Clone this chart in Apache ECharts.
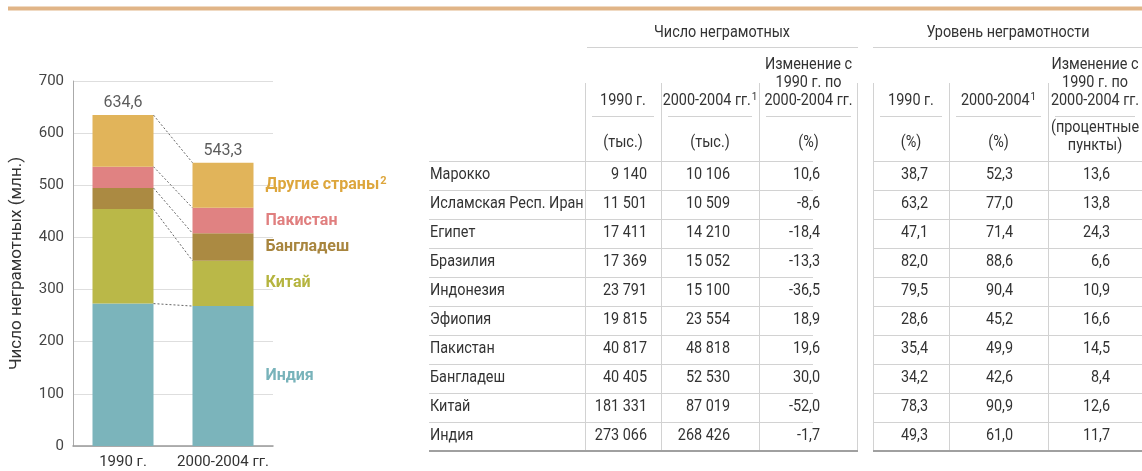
<!DOCTYPE html>
<html>
<head>
<meta charset="utf-8">
<script src="https://cdn.jsdelivr.net/npm/echarts@6/dist/echarts.min.js"></script>
<style>
html,body{margin:0;padding:0;background:#fff;}
#chart{width:1142px;height:471px;}
</style>
</head>
<body>
<div id="chart"></div>
<script>
// ---- Bar chart data (millions) ----
const categories = ['1990 г.', '2000-2004 гг.'];
const india = [273.1, 268.4];
const china = [181.3, 87.0];
const bangladesh = [40.4, 52.5];
const pakistan = [40.8, 48.8];
const others = [99.0, 86.6];
const totals = [634.6, 543.3];
const seriesNames = ['Индия', 'Китай', 'Бангладеш', 'Пакистан', 'Другие страны'];
const seriesNotes = ['', '', '', '', '2'];
const yAxisName = 'Число неграмотных (млн.)';

// ---- Table data ----
const countries = ['Марокко', 'Исламская Респ. Иран', 'Египет', 'Бразилия', 'Индонезия', 'Эфиопия', 'Пакистан', 'Бангладеш', 'Китай', 'Индия'];
const count1990 = [9140, 11501, 17411, 17369, 23791, 19815, 40817, 40405, 181331, 273066];
const count2000 = [10106, 10509, 14210, 15052, 15100, 23554, 48818, 52530, 87019, 268426];
const countChange = [10.6, -8.6, -18.4, -13.3, -36.5, 18.9, 19.6, 30.0, -52.0, -1.7];
const rate1990 = [38.7, 63.2, 47.1, 82.0, 79.5, 28.6, 35.4, 34.2, 78.3, 49.3];
const rate2000 = [52.3, 77.0, 71.4, 88.6, 90.4, 45.2, 49.9, 42.6, 90.9, 61.0];
const rateChange = [13.6, 13.8, 24.3, 6.6, 10.9, 16.6, 14.5, 8.4, 12.6, 11.7];
const groupTitles = ['Число неграмотных', 'Уровень неграмотности'];
const colHeaders = [
  ['1990 г.'], ['2000-2004 гг.|1'], ['Изменение с', '1990 г. по', '2000-2004 гг.'],
  ['1990 г.'], ['2000-2004|1'], ['Изменение с', '1990 г. по', '2000-2004 гг.']
];
const colUnits = [['(тыс.)'], ['(тыс.)'], ['(%)'], ['(%)'], ['(%)'], ['(процентные', 'пункты)']];

const FONT = 'Roboto, "Liberation Sans", sans-serif';
const colors = ['#7BB4BB', '#BAB848', '#AB8A42', '#E08282', '#E1B45A'];
const labelColors = ['#78B3BA', '#B5B43F', '#A8853E', '#E07F7F', '#DDA63C'];
const BW = 61;
const SX = 0.9; // horizontal condensing of table text

const fmtInt = v => String(v).replace(/\B(?=(\d{3})+(?!\d))/g, ' ');
const fmtDec = v => v.toFixed(1).replace('.', ',');

const stacks = [india, china, bangladesh, pakistan, others];
const barSeries = stacks.map((arr, si) => ({
  type: 'bar',
  name: seriesNames[si],
  stack: 'total',
  barWidth: BW,
  itemStyle: { color: colors[si] },
  data: arr.map((v, i) => i === 1 ? {
    value: v,
    label: {
      show: true, position: 'right', distance: 12,
      formatter: '{a|' + seriesNames[si] + '}' + (seriesNotes[si] ? '{s|' + seriesNotes[si] + '}' : ''),
      color: labelColors[si], fontWeight: 'bold', fontSize: 16, fontFamily: FONT,
      rich: {
        a: { color: labelColors[si], fontWeight: 'bold', fontSize: 16, fontFamily: FONT, height: 19 },
        s: { color: labelColors[si], fontWeight: 'bold', fontSize: 11, fontFamily: FONT, verticalAlign: 'top', padding: [0, 0, 0, 1] }
      }
    }
  } : v)
}));

// cumulative tops for connectors
const connData = [];
let c0 = 0, c1 = 0;
stacks.forEach(arr => { c0 += arr[0]; c1 += arr[1]; connData.push([0, c0, c1]); });

// ---- Table graphics ----
const g = [];
g.push({ type: 'rect', shape: { x: 8, y: 6.5, width: 1134, height: 4 }, style: { fill: '#E1B587' } });
const txt = (x, y, text, align) => {
  const parts = text.split('|');
  const style = { fill: '#333', fontSize: 16, fontFamily: FONT, align: align, verticalAlign: 'middle' };
  if (parts.length > 1) {
    style.text = '{a|' + parts[0] + '}{s|' + parts[1] + '}';
    style.rich = {
      a: { fill: '#333', fontSize: 16, fontFamily: FONT, height: 18 },
      s: { fill: '#333', fontSize: 11, fontFamily: FONT, verticalAlign: 'top', padding: [0, 0, 0, 1] }
    };
  } else {
    style.text = text;
  }
  g.push({ type: 'text', x: x, y: y, z: 10, scaleX: SX, style: style });
};
const ln = (x1, y1, x2, y2, stroke, w) => g.push({
  type: 'line', z: 5, shape: { x1: x1, y1: y1, x2: x2, y2: y2 }, style: { stroke: stroke || '#d2d2d2', lineWidth: w || 1 }
});
const colBounds = [[585, 661], [661, 759], [759, 858], [873, 949], [949, 1048], [1048, 1142]];
const colRight = [647, 730, 820, 928, 1013, 1110];
const rowTop = 160.5, rowH = 29.05;

// group titles
txt(722, 33, groupTitles[0], 'center');
txt(1008, 33, groupTitles[1], 'center');
ln(587, 47.5, 858, 47.5);
ln(873, 47.5, 1142, 47.5);
// vertical lines
[585.5, 661.5, 759.5, 857.5, 873.5, 949.5, 1048.5].forEach(x => ln(x, 83, x, 451));
// column headers
colHeaders.forEach((lines, ci) => {
  const cx = (colBounds[ci][0] + colBounds[ci][1]) / 2;
  const n = lines.length;
  lines.forEach((t, li) => txt(cx, 101 - (n - 1 - li) * 18, t, 'center'));
  ln(colBounds[ci][0] + 7, 116.5, colBounds[ci][1] - 7, 116.5);
  const u = colUnits[ci];
  u.forEach((t, li) => txt(cx, u.length === 1 ? 143 : 128 + li * 18, t, 'center'));
});
// rows
const cols = [count1990.map(fmtInt), count2000.map(fmtInt), countChange.map(fmtDec),
  rate1990.map(fmtDec), rate2000.map(fmtDec), rateChange.map(fmtDec)];
countries.forEach((name, ri) => {
  const yTop = rowTop + ri * rowH;
  const yc = yTop + rowH / 2;
  ln(429, Math.round(yTop) + 0.5, 813, Math.round(yTop) + 0.5);
  ln(873, Math.round(yTop) + 0.5, 1142, Math.round(yTop) + 0.5);
  txt(430, yc, name, 'left');
  cols.forEach((col, ci) => txt(colRight[ci], yc, col[ri], 'right'));
});
ln(429, 451, 858, 451, '#a0a0a0', 2);
ln(873, 451, 1142, 451, '#a0a0a0', 2);

const chart = echarts.init(document.getElementById('chart'), null, { renderer: 'canvas' });
chart.setOption({
  animation: false,
  backgroundColor: '#fff',
  grid: { left: 73, top: 81, width: 200, height: 365 },
  xAxis: {
    type: 'category', data: categories,
    axisLine: { lineStyle: { color: '#999', width: 1.5 } },
    axisTick: { show: false },
    axisLabel: { interval: 0, fontSize: 15, color: '#333', margin: 9, fontFamily: FONT }
  },
  yAxis: {
    type: 'value', min: 0, max: 700, interval: 100,
    name: yAxisName, nameLocation: 'middle', nameRotate: 90, nameGap: 48,
    nameTextStyle: { fontSize: 17, color: '#333', fontFamily: FONT },
    axisLine: { show: true, lineStyle: { color: '#aaa' } },
    axisTick: { show: false },
    splitLine: { lineStyle: { color: '#dedede' } },
    axisLabel: { fontSize: 15, color: '#444', margin: 9, fontFamily: FONT }
  },
  series: barSeries.concat([
    {
      type: 'custom',
      data: connData,
      encode: { x: 0, y: 1 },
      z: 5,
      renderItem: function (params, api) {
        const p1 = api.coord([0, api.value(1)]);
        const p2 = api.coord([1, api.value(2)]);
        return {
          type: 'line',
          shape: { x1: p1[0] + BW / 2, y1: p1[1], x2: p2[0] - BW / 2, y2: p2[1] },
          style: { stroke: '#666', lineWidth: 1, lineDash: [2, 2] }
        };
      }
    },
    {
      type: 'scatter',
      data: totals,
      symbolSize: 0,
      z: 6,
      label: {
        show: true, position: 'top', distance: 4,
        formatter: p => fmtDec(p.value),
        fontSize: 16, color: '#333', fontFamily: FONT
      }
    }
  ]),
  graphic: g
});
</script>
</body>
</html>
